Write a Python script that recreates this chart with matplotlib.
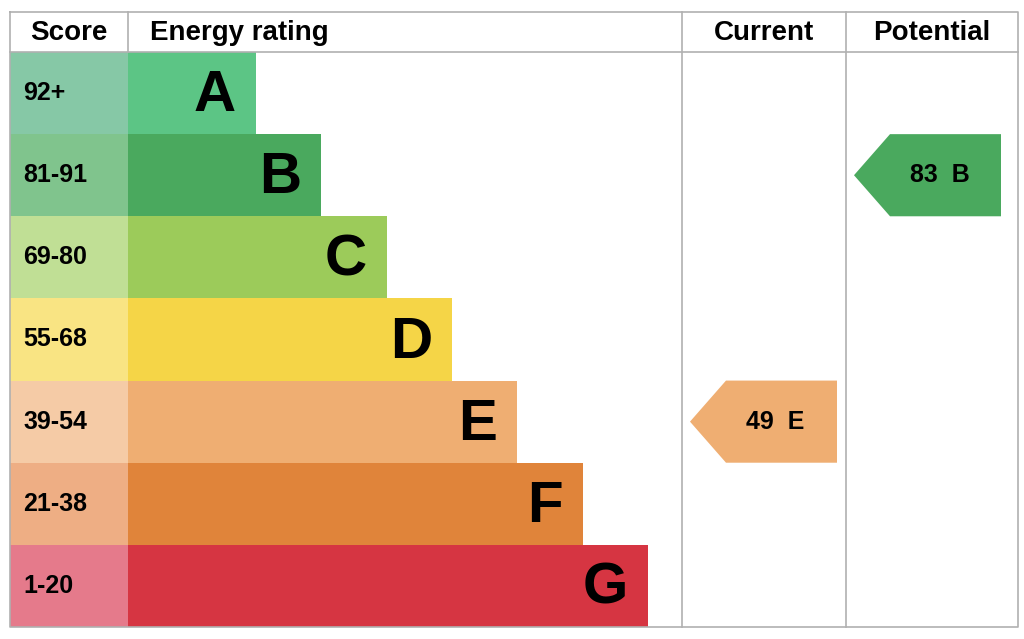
import matplotlib
matplotlib.use("Agg")
import matplotlib.pyplot as plt
from matplotlib.patches import Rectangle, Polygon

bands = ["A", "B", "C", "D", "E", "F", "G"]
score_ranges = ["92+", "81-91", "69-80", "55-68", "39-54", "21-38", "1-20"]
band_colors = ["#5cc585", "#4aa95e", "#9ccb5a", "#f5d547", "#efae72", "#e0843a", "#d63542"]
score_colors = ["#86c8a6", "#80c48d", "#c0df95", "#f9e483", "#f5cba6", "#eeae84", "#e57a8b"]
lower_bounds = [92, 81, 69, 55, 39, 21, 1]
current_score = 49
potential_score = 83

def band_of(s):
    for i, lb in enumerate(lower_bounds):
        if s >= lb:
            return i
    return len(bands) - 1

plt.rcParams['font.family'] = ['Liberation Sans', 'DejaVu Sans']
fig = plt.figure(figsize=(10.24, 6.39), dpi=100)
ax = fig.add_axes([0, 0, 1, 1])
ax.set_xlim(0, 1024); ax.set_ylim(639, 0); ax.axis("off")

L, R, T, B = 10, 1018, 12, 627
hdr = 52
rowh = (B - hdr) / 7
x_score = 128
step = 65.3
c1, c2 = 682, 846
lc = "#b0b0b0"

for i, b in enumerate(bands):
    y0 = hdr + i * rowh
    ax.add_patch(Rectangle((L, y0), x_score - L, rowh, color=score_colors[i], lw=0))
    xe = x_score + 128 + i * step
    ax.add_patch(Rectangle((x_score, y0), xe - x_score, rowh, color=band_colors[i], lw=0))
    ax.text(23, y0 + rowh / 2, score_ranges[i], fontsize=18, fontweight="bold", va="center", ha="left")
    ax.text(xe - 20, y0 + rowh / 2 + 3, b, fontsize=42, fontweight="bold", va="center", ha="right")

def arrow(x0, x1, score):
    i = band_of(score)
    y0 = hdr + i * rowh
    d = 36
    pts = [(x0, y0 + rowh / 2), (x0 + d, y0), (x1, y0), (x1, y0 + rowh), (x0 + d, y0 + rowh)]
    ax.add_patch(Polygon(pts, closed=True, color=band_colors[i], lw=0))
    ax.text((x0 + x1) / 2 + 12, y0 + rowh / 2, f"{score}  {bands[i]}", fontsize=18,
            fontweight="bold", va="center", ha="center")

arrow(690, 837, current_score)
arrow(854, 1001, potential_score)

# grid lines
ax.plot([L, R, R, L, L], [T, T, B, B, T], color=lc, lw=1.2)
ax.plot([L, R], [hdr, hdr], color=lc, lw=1.2)
for x in (x_score, c1, c2):
    ax.plot([x, x], [T, B] if x != x_score else [T, hdr], color=lc, lw=1.2)

hy = (T + hdr) / 2 + 1
ax.text(69, hy, "Score", fontsize=20, fontweight="bold", ha="center", va="center")
ax.text(150, hy, "Energy rating", fontsize=20, fontweight="bold", ha="left", va="center")
ax.text((c1 + c2) / 2, hy, "Current", fontsize=20, fontweight="bold", ha="center", va="center")
ax.text((c2 + R) / 2, hy, "Potential", fontsize=20, fontweight="bold", ha="center", va="center")

fig.savefig("out.png", dpi=100, facecolor="white")
